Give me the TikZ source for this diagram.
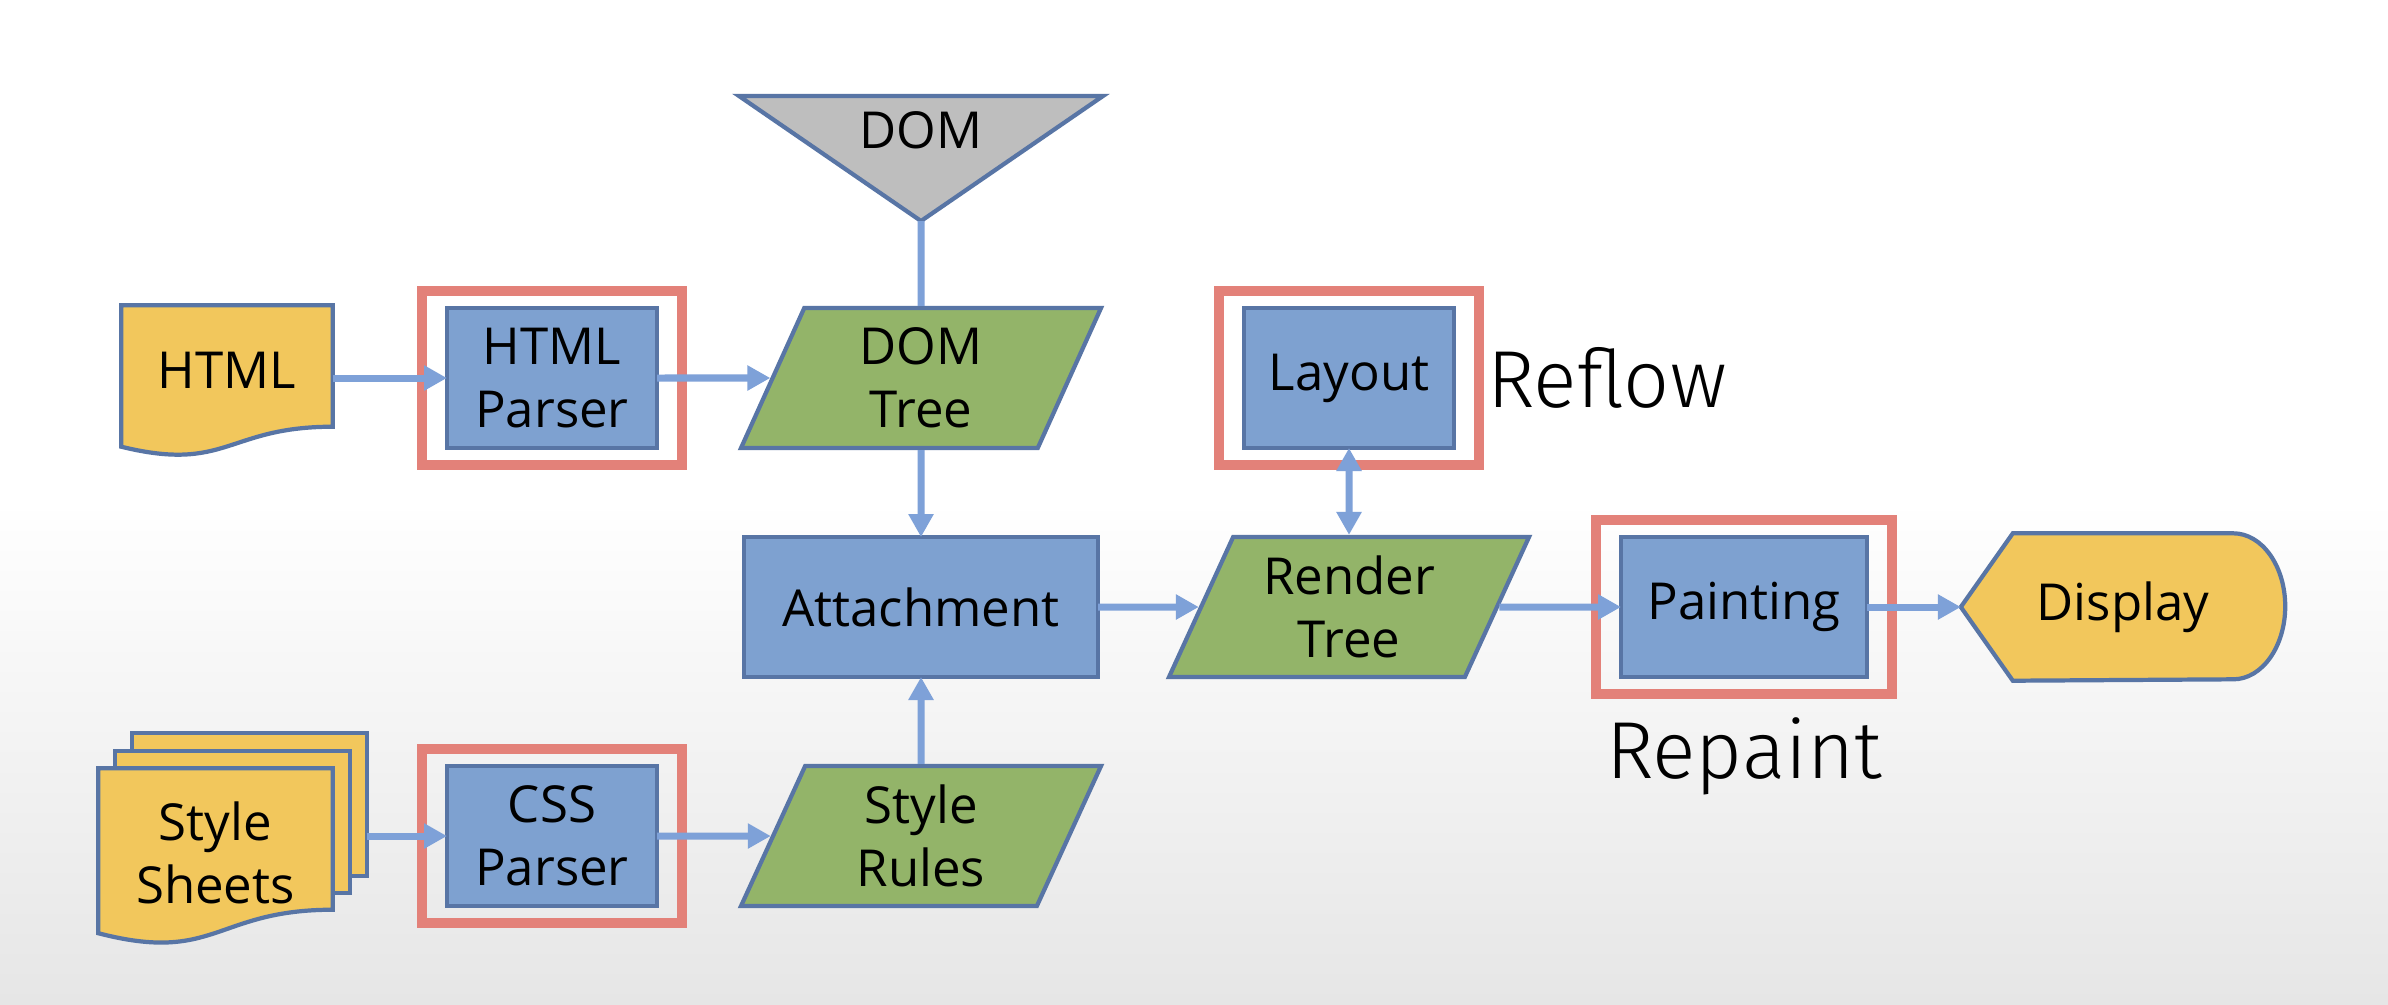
\documentclass[tikz,border=0pt]{standalone}
\usepackage{fontspec}
\setmainfont{Open Sans}
\newfontfamily\thinfont{Fira Sans Light}
\usetikzlibrary{positioning, arrows.meta, shapes.geometric, fit}

\definecolor{procblue}{RGB}{126,161,208}
\definecolor{edgeblue}{RGB}{88,117,165}
\definecolor{datagreen}{RGB}{147,180,105}
\definecolor{docyellow}{RGB}{242,199,92}
\definecolor{domgray}{RGB}{190,190,190}
\definecolor{hotred}{RGB}{227,129,121}
\definecolor{flowblue}{RGB}{126,161,216}
\definecolor{bggray}{RGB}{230,230,230}

\pgfdeclarelayer{bg}
\pgfdeclarelayer{shapes}
\pgfsetlayers{bg,shapes,main}

\tikzset{
  proc/.style={rectangle, draw=edgeblue, fill=procblue, line width=1.2pt,
    minimum width=2.10cm, minimum height=1.40cm, align=center, outer sep=0pt},
  data/.style={trapezium, trapezium left angle=63, trapezium right angle=117,
    trapezium stretches body, draw=edgeblue, fill=datagreen, line width=1.2pt,
    minimum width=3.60cm, minimum height=1.40cm, align=center},
  holder/.style={align=center, inner sep=0pt},
  sheet/.style={draw=edgeblue, fill=docyellow, line width=1.2pt},
  hot/.style={draw=hotred, line width=2.8pt, inner xsep=0.25cm, inner ysep=0.17cm},
  flow/.style={draw=flowblue, line width=2pt, -{Triangle[length=0.23cm,width=0.24cm]}},
  link/.style={draw=flowblue, line width=2pt},
  tag/.style={font=\thinfont\fontsize{23}{27}\selectfont}
}

\begin{document}
\begin{tikzpicture}
  [on grid, font=\fontsize{14.5}{18}\selectfont]
   \useasboundingbox (0,0) rectangle (23.88,-10.04);
   \node[proc, minimum width=3.54cm] (attachment) at (9.21,-6.07) {Attachment};
   \node[data] (dom_tree) [above=2.29cm of attachment] {DOM\\Tree};
   \node[data] (style_rules) [below=2.29cm of attachment] {Style\\Rules};
   \node[proc] (html_parser) [left=3.69cm of dom_tree] {HTML\\Parser};
   \node[proc] (css_parser) [left=3.69cm of style_rules] {CSS\\Parser};
   \node[data] (render_tree) [right=4.28cm of attachment] {Render\\Tree};
   \node[proc] (layout) [above=2.29cm of render_tree] {Layout};
   \node[proc, minimum width=2.46cm] (painting) [right=3.95cm of render_tree] {Painting};
   \node[holder, minimum width=3.23cm, minimum height=1.46cm] (display) [right=3.79cm of painting] {Display};
   \node[holder, minimum width=2.10cm, minimum height=1.28cm] (html) at (2.27,-3.70) {HTML};
   \node[holder, minimum width=2.33cm, minimum height=1.68cm] (style_sheets) at (2.155,-8.53) {Style\\Sheets};
   \node (dom) at (9.21,-1.30) {DOM};
   \coordinate (dom_tip) at (9.21,-2.21);

   \node[hot, fit=(html_parser)] (html_parser_frame) {};
   \node[hot, fit=(css_parser)] (css_parser_frame) {};
   \node[hot, fit=(layout)] (layout_frame) {};
   \node[hot, fit=(painting)] (painting_frame) {};
   \node[tag, anchor=west] (reflow) at ([xshift=-0.09cm]layout_frame.east) {Reflow};
   \node[tag, anchor=base] (repaint) at ([yshift=-0.80cm]painting_frame.south) {Repaint};

   \begin{pgfonlayer}{bg}
    \fill[white] (0,0) rectangle (23.88,-10.04);
    \shade[top color=white, bottom color=bggray] (0,-5.0) rectangle (23.88,-10.04);
   \end{pgfonlayer}

   \begin{pgfonlayer}{shapes}
    % input documents and output
    \draw[sheet] (html.north west) -- (html.north east) -- ([yshift=0.08cm]html.south east)
      .. controls ([yshift=0.08cm]html.south) and ([yshift=-0.38cm]html.south)
      .. ([yshift=-0.12cm]html.south west) -- cycle;
    \draw[sheet] ([shift={(0.34cm,0.35cm)}]style_sheets.north west)
      rectangle ([shift={(0.34cm,0.62cm)}]style_sheets.south east);
    \draw[sheet] ([shift={(0.17cm,0.175cm)}]style_sheets.north west)
      rectangle ([shift={(0.17cm,0.45cm)}]style_sheets.south east);
    \draw[sheet] (style_sheets.north west) -- (style_sheets.north east)
      -- ([yshift=0.28cm]style_sheets.south east)
      .. controls ([yshift=0.28cm]style_sheets.south) and ([yshift=-0.26cm]style_sheets.south)
      .. ([yshift=0.045cm]style_sheets.south west) -- cycle;
    \draw[sheet] (display.west) -- ([xshift=0.52cm]display.north west)
      -- ([xshift=-0.52cm]display.north east)
      arc[start angle=90, end angle=-90, x radius=0.52cm, y radius=0.73cm]
      -- ([xshift=0.52cm]display.south west) -- cycle;
    \draw[sheet, fill=domgray] (7.39,-0.96) -- (11.03,-0.96) -- (dom_tip) -- cycle;
   \end{pgfonlayer}

   \draw[flow] (html.east |- html_parser) -- (html_parser);
   \draw[flow] (html_parser) -- (dom_tree);
   \draw[link] (dom_tip) -- (dom_tree);
   \draw[flow] (dom_tree) -- (attachment);
   \draw[flow] ([xshift=0.34cm]style_sheets.east |- css_parser) -- (css_parser);
   \draw[flow] (css_parser) -- (style_rules);
   \draw[flow] (style_rules) -- (attachment);
   \draw[flow] (attachment) -- (render_tree);
   \draw[flow, {Triangle[length=0.23cm,width=0.24cm]}-{Triangle[length=0.23cm,width=0.24cm]}] (layout) -- (render_tree);
   \draw[flow] (render_tree) -- (painting);
   \draw[flow] (painting) -- (display);
\end{tikzpicture}
\end{document}
